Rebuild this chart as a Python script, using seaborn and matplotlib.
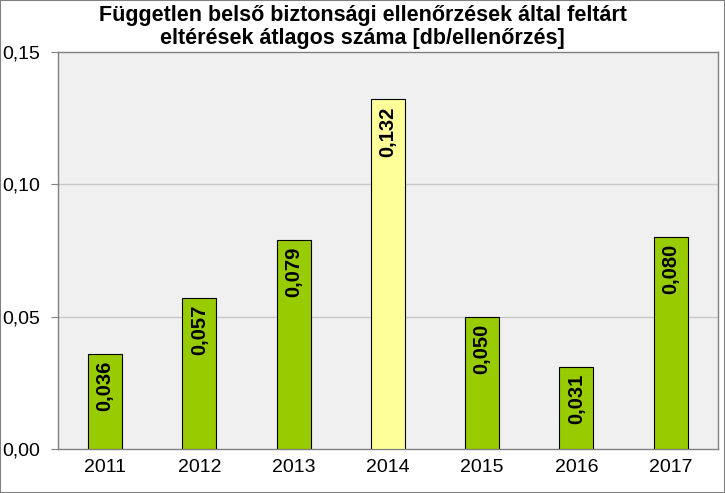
import matplotlib
matplotlib.use("Agg")
import matplotlib.pyplot as plt
import seaborn as sns
import pandas as pd
from matplotlib.patches import Rectangle

years = ["2011", "2012", "2013", "2014", "2015", "2016", "2017"]
values = [0.036, 0.057, 0.079, 0.132, 0.050, 0.031, 0.080]
labels = ["0,036", "0,057", "0,079", "0,132", "0,050", "0,031", "0,080"]
ytick_vals = [0.00, 0.05, 0.10, 0.15]
ytick_labels = ["0,00", "0,05", "0,10", "0,15"]
bar_colors = ["#99CC00", "#99CC00", "#99CC00", "#FFFF99", "#99CC00", "#99CC00", "#99CC00"]
title = "Független belső biztonsági ellenőrzések által feltárt\neltérések átlagos száma [db/ellenőrzés]"

sns.set_theme(style="white")
plt.rcParams['font.family'] = ['Liberation Sans', 'DejaVu Sans']
plt.rcParams['text.color'] = 'black'
plt.rcParams['xtick.color'] = 'black'
plt.rcParams['ytick.color'] = 'black'

df = pd.DataFrame({"year": years, "value": values})

fig = plt.figure(figsize=(7.25, 4.93), dpi=100)
ax = fig.add_axes([0.080, 0.089, 0.910, 0.806])
ax.set_facecolor("#F0F0F0")

sns.barplot(data=df, x="year", y="value", hue="year", palette=bar_colors,
            legend=False, width=0.36, edgecolor="black", linewidth=0.8,
            saturation=1, ax=ax, zorder=3)

ax.set_ylim(0, 0.15)
ax.set_yticks(ytick_vals)
ax.set_yticklabels(ytick_labels, fontsize=14)
ax.tick_params(axis="x", labelsize=14, length=0, pad=7, labelcolor="black")
ax.tick_params(axis="y", length=5, width=0.8, color="#808080", left=True, pad=8,
               labelcolor="black")
ax.set_xlabel("")
ax.set_ylabel("")
for y in ytick_vals[1:3]:
    ax.axhline(y, color="#C8C8C8", linewidth=1, zorder=1)
for s in ax.spines.values():
    s.set_color("#808080")
    s.set_linewidth(1)

for i, (v, lab) in enumerate(zip(values, labels)):
    ax.annotate(lab, xy=(i, v), xytext=(0, -5), textcoords="offset points",
                rotation=90, ha="center", va="top", fontsize=14.5,
                fontweight="bold", color="black", zorder=4)

fig.suptitle(title, fontsize=15.5, fontweight="bold", y=0.99, linespacing=1.15,
             color="black")
fig.patches.append(Rectangle((0, 0), 1, 1, transform=fig.transFigure,
                             fill=False, edgecolor="#808080", linewidth=1.5))
fig.savefig("out.png", dpi=100)
